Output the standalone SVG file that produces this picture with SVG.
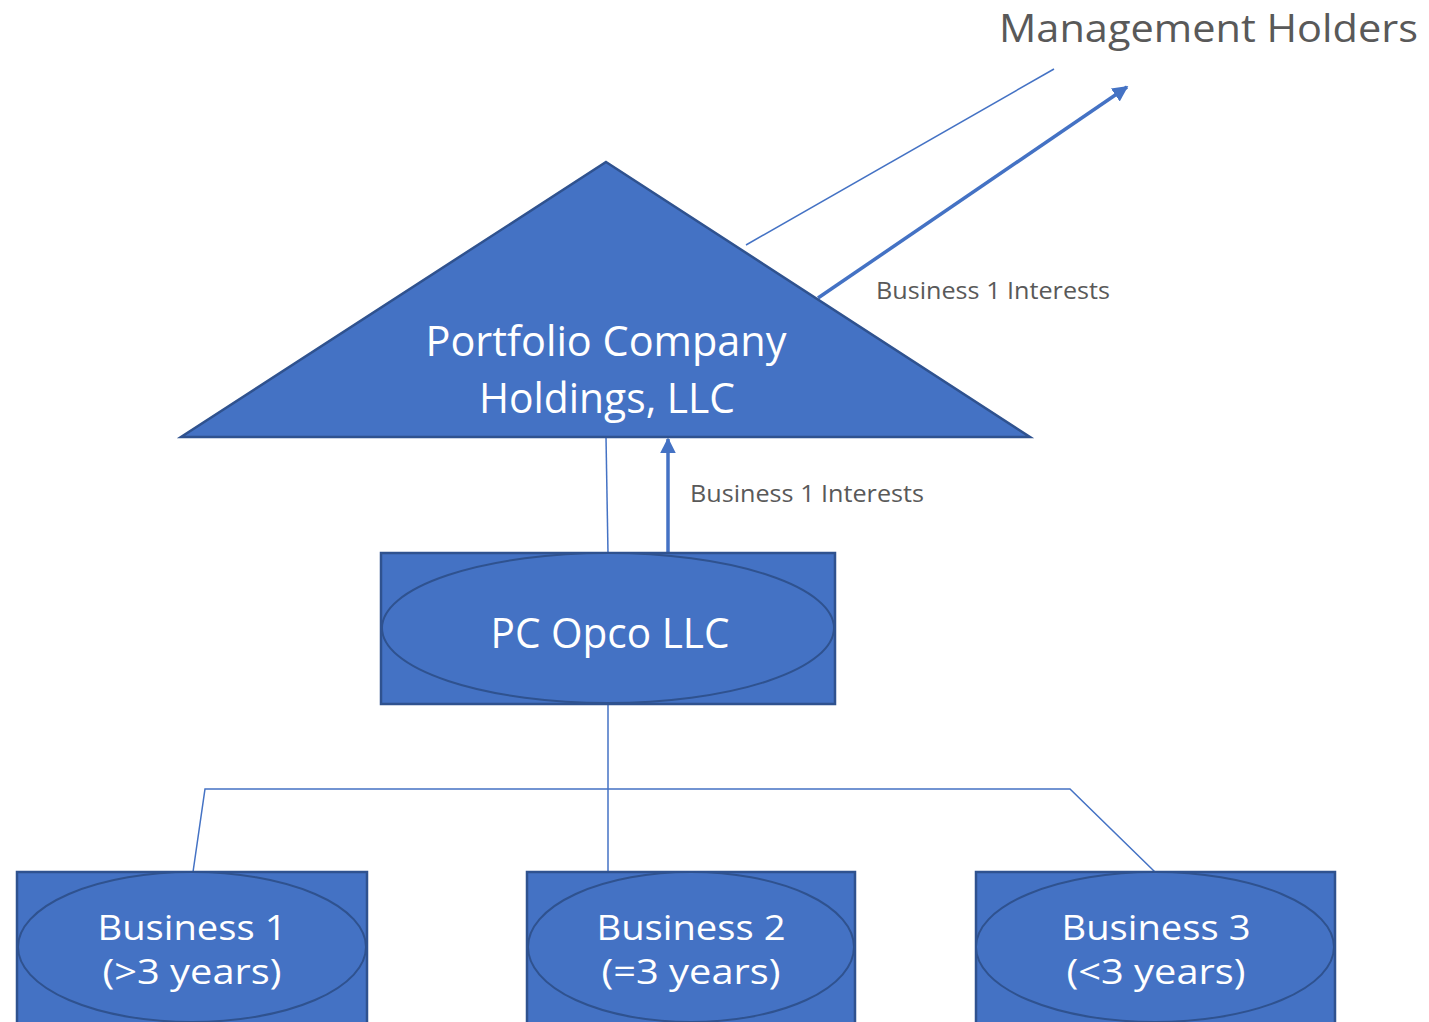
<svg xmlns="http://www.w3.org/2000/svg" width="1429" height="1022" viewBox="0 0 1429 1022">
  <style>
    .shape { fill: #4472C4; stroke: #2F528F; stroke-width: 2.5; }
    .oval { fill: #4472C4; stroke: #2F528F; stroke-width: 2; }
    .thin { fill: none; stroke: #4472C4; stroke-width: 1.5; }
    .thick { fill: none; stroke: #4472C4; stroke-width: 3.5; }
    .node-text { font-family: "Open Sans", "Noto Sans", sans-serif; fill: #FFFFFF; text-anchor: middle; }
    .label { font-family: "Open Sans", "Noto Sans", sans-serif; fill: #595959; }
  </style>
  <defs>
    <marker id="arrow" viewBox="0 0 10 10" refX="9" refY="5" markerWidth="4.5" markerHeight="4.5" orient="auto" markerUnits="strokeWidth">
      <path d="M0,0 L10,5 L0,10 Z" fill="#4472C4"/>
    </marker>
  </defs>

  <rect width="1429" height="1022" fill="#FFFFFF"/>

  <!-- connectors -->
  <g id="connectors">
    <line class="thin" x1="746" y1="245" x2="1054" y2="69"/>
    <line class="thick" x1="818" y1="298" x2="1127" y2="87" marker-end="url(#arrow)"/>
    <line class="thin" x1="606" y1="437" x2="608" y2="553"/>
    <line class="thick" x1="668" y1="553" x2="668" y2="439" marker-end="url(#arrow)"/>
    <line class="thin" x1="608" y1="704" x2="608" y2="872"/>
    <polyline class="thin" points="193,872 205,789 1070,789 1155,872"/>
  </g>

  <!-- Portfolio Company Holdings -->
  <g id="holdings">
    <polygon class="shape" points="606,162 1030,437 181,437"/>
    <text class="node-text" x="606" y="356" font-size="42" textLength="361" lengthAdjust="spacingAndGlyphs">Portfolio Company</text>
    <text class="node-text" x="607" y="413" font-size="42" textLength="256" lengthAdjust="spacingAndGlyphs">Holdings, LLC</text>
  </g>

  <!-- PC Opco -->
  <g id="opco">
    <rect class="shape" x="381" y="553" width="454" height="151"/>
    <ellipse class="oval" cx="608" cy="628" rx="226" ry="75"/>
    <text class="node-text" x="610" y="648" font-size="42" textLength="239" lengthAdjust="spacingAndGlyphs">PC Opco LLC</text>
  </g>

  <!-- Business 1 -->
  <g id="business1">
    <rect class="shape" x="17" y="872" width="350" height="160"/>
    <ellipse class="oval" cx="192" cy="947" rx="174" ry="75"/>
    <text class="node-text" x="192" y="940" font-size="34" textLength="189" lengthAdjust="spacingAndGlyphs">Business 1</text>
    <text class="node-text" x="192" y="984" font-size="34" textLength="179" lengthAdjust="spacingAndGlyphs">(&gt;3 years)</text>
  </g>

  <!-- Business 2 -->
  <g id="business2">
    <rect class="shape" x="527" y="872" width="328" height="160"/>
    <ellipse class="oval" cx="691" cy="947" rx="163" ry="75"/>
    <text class="node-text" x="691" y="940" font-size="34" textLength="189" lengthAdjust="spacingAndGlyphs">Business 2</text>
    <text class="node-text" x="691" y="984" font-size="34" textLength="179" lengthAdjust="spacingAndGlyphs">(=3 years)</text>
  </g>

  <!-- Business 3 -->
  <g id="business3">
    <rect class="shape" x="976" y="872" width="359" height="160"/>
    <ellipse class="oval" cx="1155" cy="947" rx="179" ry="75"/>
    <text class="node-text" x="1156" y="940" font-size="34" textLength="189" lengthAdjust="spacingAndGlyphs">Business 3</text>
    <text class="node-text" x="1156" y="984" font-size="34" textLength="179" lengthAdjust="spacingAndGlyphs">(&lt;3 years)</text>
  </g>

  <!-- Management Holders -->
  <g id="management">
    <text class="label" x="999" y="42" font-size="38" textLength="419" lengthAdjust="spacingAndGlyphs">Management Holders</text>
  </g>

  <!-- connector labels -->
  <g id="labels">
    <text class="label" x="876" y="299" font-size="23" textLength="234" lengthAdjust="spacingAndGlyphs">Business 1 Interests</text>
    <text class="label" x="690" y="502" font-size="23" textLength="234" lengthAdjust="spacingAndGlyphs">Business 1 Interests</text>
  </g>
</svg>
